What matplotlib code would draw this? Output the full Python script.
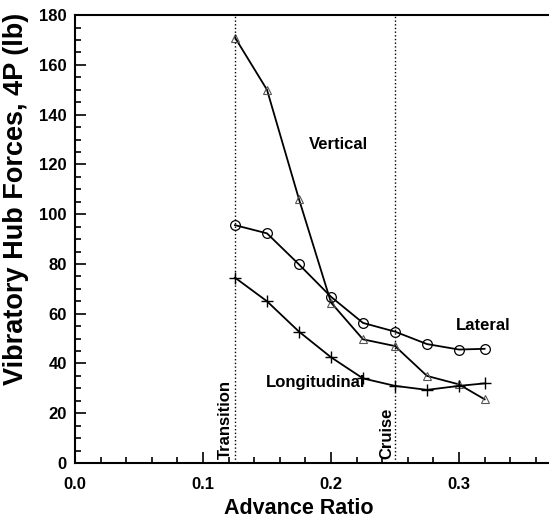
import numpy as np
import matplotlib.pyplot as plt
from matplotlib.ticker import MultipleLocator

plt.rcParams['font.family'] = ['Liberation Sans', 'DejaVu Sans']
plt.rcParams['font.weight'] = 'bold'

## advance ratio
mu = [0.125, 0.15, 0.175, 0.2, 0.225, 0.25, 0.275, 0.3, 0.32]

## 4P hub forces (lb)
vertical = [171, 150, 106, 64.5, 49.7, 47, 35, 31.6, 25.6]
lateral = [95.6, 92.3, 79.8, 66.8, 56.3, 52.8, 47.8, 45.6, 45.9]
longitudinal = [74.5, 65, 52.8, 42.5, 34, 31, 29.4, 31, 32]

transition = 0.125
cruise = 0.25

fig = plt.figure(figsize=(5.49, 5.22), dpi=100)
ax = fig.add_axes([0.1366, 0.113, 0.8634, 0.858])

ax.plot(mu, vertical, color='black', lw=1.3, marker='^', ms=6, mfc='none', mec='#555555', mew=0.8)
ax.plot(mu, lateral, color='black', lw=1.3, marker='o', ms=7, mfc='none', mec='black', mew=0.9)
ax.plot(mu, longitudinal, color='black', lw=1.3, marker='+', ms=8, mec='black', mew=1.0)

ax.axvline(transition, color='black', ls=':', lw=1.0)
ax.axvline(cruise, color='black', ls=':', lw=1.0)

ax.text(0.2055, 128, 'Vertical', fontsize=12, fontweight='bold', ha='center', va='center')
ax.text(0.3185, 55.2, 'Lateral', fontsize=12, fontweight='bold', ha='center', va='center')
ax.text(0.188, 32.3, 'Longitudinal', fontsize=12, fontweight='bold', ha='center', va='center')
ax.text(0.1175, 1.5, 'Transition', fontsize=12, fontweight='bold', rotation=90, ha='center', va='bottom')
ax.text(0.2435, 1.5, 'Cruise', fontsize=12, fontweight='bold', rotation=90, ha='center', va='bottom')

ax.set_xlim(0, 0.3703)
ax.set_ylim(0, 180)
ax.xaxis.set_major_locator(MultipleLocator(0.1))
ax.xaxis.set_minor_locator(MultipleLocator(0.02))
ax.yaxis.set_major_locator(MultipleLocator(20))
ax.yaxis.set_minor_locator(MultipleLocator(5))
ax.set_xticks([0.0, 0.1, 0.2, 0.3])
ax.set_xticklabels(['0.0', '0.1', '0.2', '0.3'])
ax.tick_params(which='both', direction='in', top=False, right=False, labelsize=12, width=1.2)
ax.tick_params(which='major', length=8)
ax.tick_params(which='minor', length=4)
ax.tick_params(axis='x', pad=10)
ax.tick_params(axis='y', pad=6)

ax.spines['right'].set_visible(False)
for s in ['left', 'bottom', 'top']:
    ax.spines[s].set_linewidth(1.5)

ax.set_xlabel('Advance Ratio', fontsize=15.5, fontweight='bold')
ax.set_ylabel('Vibratory Hub Forces, 4P (lb)', fontsize=19.5, fontweight='bold')
ax.xaxis.set_label_coords(0.473, -0.078)
ax.yaxis.set_label_coords(-0.097, 0.59)

fig.savefig('out.png', dpi=100)
